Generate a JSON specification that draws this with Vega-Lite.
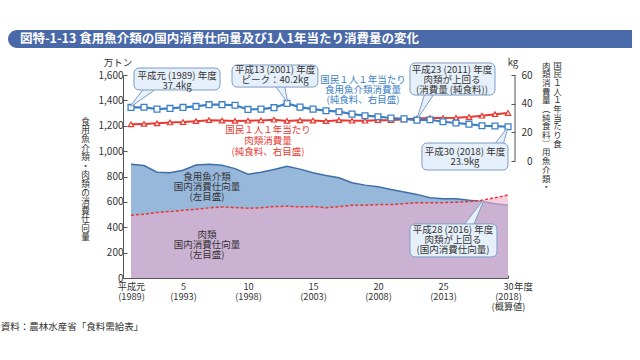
{
  "$schema": "https://vega.github.io/schema/vega-lite/v6.json",
  "width": 385,
  "height": 203,
  "autosize": {"type": "none"},
  "padding": {"left": 123, "top": 75, "right": 132, "bottom": 82},
  "background": "white",
  "config": {
    "font": "Noto Sans CJK JP",
    "view": {"stroke": null},
    "axis": {"grid": false, "labelOverlap": false, "domainColor": "#555555", "tickColor": "#555555", "labelColor": "#333333", "titleColor": "#333333", "labelFont": "Noto Sans CJK JP", "titleFont": "Noto Sans CJK JP"}
  },
  "datasets": {
    "d": [
      {"year": 1989, "fish_t": 896, "meat_t": 495, "fish_kg": 37.4, "meat_kg": 25.6},
      {"year": 1990, "fish_t": 886, "meat_t": 503, "fish_kg": 37.5, "meat_kg": 25.9},
      {"year": 1991, "fish_t": 834, "meat_t": 516, "fish_kg": 36.2, "meat_kg": 26.3},
      {"year": 1992, "fish_t": 829, "meat_t": 524, "fish_kg": 36.7, "meat_kg": 26.9},
      {"year": 1993, "fish_t": 850, "meat_t": 534, "fish_kg": 37.4, "meat_kg": 27.2},
      {"year": 1994, "fish_t": 891, "meat_t": 542, "fish_kg": 38.1, "meat_kg": 27.8},
      {"year": 1995, "fish_t": 896, "meat_t": 553, "fish_kg": 39.3, "meat_kg": 28.5},
      {"year": 1996, "fish_t": 888, "meat_t": 560, "fish_kg": 39.3, "meat_kg": 28.2},
      {"year": 1997, "fish_t": 862, "meat_t": 555, "fish_kg": 38.9, "meat_kg": 28.0},
      {"year": 1998, "fish_t": 818, "meat_t": 550, "fish_kg": 36.0, "meat_kg": 28.1},
      {"year": 1999, "fish_t": 834, "meat_t": 553, "fish_kg": 36.2, "meat_kg": 28.3},
      {"year": 2000, "fish_t": 855, "meat_t": 563, "fish_kg": 37.2, "meat_kg": 28.8},
      {"year": 2001, "fish_t": 881, "meat_t": 566, "fish_kg": 40.2, "meat_kg": 28.0},
      {"year": 2002, "fish_t": 858, "meat_t": 560, "fish_kg": 37.6, "meat_kg": 28.4},
      {"year": 2003, "fish_t": 829, "meat_t": 563, "fish_kg": 36.2, "meat_kg": 28.2},
      {"year": 2004, "fish_t": 808, "meat_t": 553, "fish_kg": 35.1, "meat_kg": 27.8},
      {"year": 2005, "fish_t": 790, "meat_t": 563, "fish_kg": 34.4, "meat_kg": 28.5},
      {"year": 2006, "fish_t": 751, "meat_t": 573, "fish_kg": 32.7, "meat_kg": 28.1},
      {"year": 2007, "fish_t": 732, "meat_t": 573, "fish_kg": 31.6, "meat_kg": 28.1},
      {"year": 2008, "fish_t": 719, "meat_t": 579, "fish_kg": 30.9, "meat_kg": 28.5},
      {"year": 2009, "fish_t": 698, "meat_t": 579, "fish_kg": 30.0, "meat_kg": 28.5},
      {"year": 2010, "fish_t": 678, "meat_t": 586, "fish_kg": 29.4, "meat_kg": 29.1},
      {"year": 2011, "fish_t": 659, "meat_t": 594, "fish_kg": 28.5, "meat_kg": 29.6},
      {"year": 2012, "fish_t": 633, "meat_t": 594, "fish_kg": 28.8, "meat_kg": 30.0},
      {"year": 2013, "fish_t": 625, "meat_t": 594, "fish_kg": 27.4, "meat_kg": 30.0},
      {"year": 2014, "fish_t": 625, "meat_t": 597, "fish_kg": 26.5, "meat_kg": 30.1},
      {"year": 2015, "fish_t": 612, "meat_t": 602, "fish_kg": 25.7, "meat_kg": 30.7},
      {"year": 2016, "fish_t": 603, "meat_t": 613, "fish_kg": 24.6, "meat_kg": 31.6},
      {"year": 2017, "fish_t": 586, "meat_t": 633, "fish_kg": 24.4, "meat_kg": 32.7},
      {"year": 2018, "fish_t": 573, "meat_t": 654, "fish_kg": 23.9, "meat_kg": 33.5}
    ]
  },
  "layer": [
    {
      "data": {"name": "d"},
      "layer": [
        {
          "mark": {"type": "area", "color": "#97b7db"},
          "encoding": {
            "x": {"field": "year", "type": "quantitative", "scale": {"domain": [1988.385, 2018], "nice": false, "zero": false},
              "axis": {"values": [1989,1990,1991,1992,1993,1994,1995,1996,1997,1998,1999,2000,2001,2002,2003,2004,2005,2006,2007,2008,2009,2010,2011,2012,2013,2014,2015,2016,2017,2018],
                "tickCount": 100,
                "labelExpr": "datum.value == 1989 ? ['平成元','(1989)'] : datum.value == 1993 ? ['5','(1993)'] : datum.value == 1998 ? ['10','(1998)'] : datum.value == 2003 ? ['15','(2003)'] : datum.value == 2008 ? ['20','(2008)'] : datum.value == 2013 ? ['25','(2013)'] : datum.value == 2018 ? ['30','(2018)','(概算値)'] : ''",
                "labelOverlap": false, "labelFlush": false, "labelBound": false, "tickSize": -3, "labelPadding": 7, "labelFontSize": 9.2, "labelLineHeight": 10, "title": null}},
            "y": {"field": "fish_t", "type": "quantitative", "scale": {"domain": [0, 1600], "nice": false},
              "axis": {"values": [0,200,400,600,800,1000,1200,1400,1600], "tickCount": 100, "format": ",.0f", "labelOverlap": false, "tickSize": -4, "labelPadding": 4, "labelFontSize": 10,
                "title": ["食","用","魚","介","類","・","肉","類","の","消","費","仕","向","量"],
                "titleAngle": 0, "titleFontSize": 8.6, "titleLineHeight": 8.9, "titleFontWeight": "normal", "titleAlign": "center", "titleBaseline": "top", "titleX": -38, "titleY": 42}}
          }
        },
        {
          "mark": {"type": "line", "color": "#3f6fa6", "strokeWidth": 1.5},
          "encoding": {
            "x": {"field": "year", "type": "quantitative", "scale": {"domain": [1988.385, 2018], "nice": false, "zero": false}},
            "y": {"field": "fish_t", "type": "quantitative", "scale": {"domain": [0, 1600], "nice": false}}
          }
        },
        {
          "mark": {"type": "area", "color": "#f0afcb", "opacity": 0.6},
          "encoding": {
            "x": {"field": "year", "type": "quantitative", "scale": {"domain": [1988.385, 2018], "nice": false, "zero": false}},
            "y": {"field": "meat_t", "type": "quantitative", "scale": {"domain": [0, 1600], "nice": false}}
          }
        },
        {
          "mark": {"type": "line", "color": "#e8382f", "strokeWidth": 1.5, "strokeDash": [3, 2]},
          "encoding": {
            "x": {"field": "year", "type": "quantitative", "scale": {"domain": [1988.385, 2018], "nice": false, "zero": false}},
            "y": {"field": "meat_t", "type": "quantitative", "scale": {"domain": [0, 1600], "nice": false}}
          }
        }
      ]
    },
    {
      "layer": [
        {
          "data": {"name": "d"},
          "mark": {"type": "line", "color": "#e8382f", "strokeWidth": 2},
          "encoding": {
            "x": {"field": "year", "type": "quantitative", "scale": {"domain": [1988.385, 2018], "nice": false, "zero": false}},
            "y": {"field": "meat_kg", "type": "quantitative", "scale": {"domain": [-81.6, 60], "nice": false, "zero": false},
              "axis": {"orient": "right", "values": [0, 20, 40, 60], "tickCount": 100, "domain": false, "offset": 7, "tickSize": -4, "labelAlign": "right", "labelPadding": 21, "labelFontSize": 10, "labelOverlap": false,
                "title": ["肉\u2004国","類\u2004民","消\u2004１","費\u2004人","量\u2004１","︵\u2004年","純\u2004当","食\u2004た","料\u2004り","︶\u2004食","　\u2004用","　\u2004魚","　\u2004介","　\u2004類","　\u2004・"],
                "titleAngle": 0, "titleAlign": "left", "titleBaseline": "top", "titleX": 26.5, "titleY": -14, "titleFontSize": 8.5, "titleLineHeight": 8.7, "titleFontWeight": "normal"}}
          }
        },
        {
          "data": {"name": "d"},
          "mark": {"type": "point", "shape": "triangle-up", "filled": true, "fill": "white", "stroke": "#e8382f", "strokeWidth": 1.2, "size": 28, "opacity": 1},
          "encoding": {
            "x": {"field": "year", "type": "quantitative", "scale": {"domain": [1988.385, 2018], "nice": false, "zero": false}},
            "y": {"field": "meat_kg", "type": "quantitative", "scale": {"domain": [-81.6, 60], "nice": false, "zero": false}}
          }
        },
        {
          "data": {"name": "d"},
          "mark": {"type": "line", "color": "#3b7fc4", "strokeWidth": 2.2},
          "encoding": {
            "x": {"field": "year", "type": "quantitative", "scale": {"domain": [1988.385, 2018], "nice": false, "zero": false}},
            "y": {"field": "fish_kg", "type": "quantitative", "scale": {"domain": [-81.6, 60], "nice": false, "zero": false}}
          }
        },
        {
          "data": {"name": "d"},
          "mark": {"type": "point", "shape": "square", "filled": true, "fill": "white", "stroke": "#3b7fc4", "strokeWidth": 1.3, "size": 34, "opacity": 1},
          "encoding": {
            "x": {"field": "year", "type": "quantitative", "scale": {"domain": [1988.385, 2018], "nice": false, "zero": false}},
            "y": {"field": "fish_kg", "type": "quantitative", "scale": {"domain": [-81.6, 60], "nice": false, "zero": false}}
          }
        },
        {
          "data": {"values": [{"a": 1}]},
          "mark": {"type": "rule", "color": "#555555", "strokeWidth": 1},
          "encoding": {
            "x": {"datum": 2018.54, "type": "quantitative", "scale": {"domain": [1988.385, 2018], "nice": false, "zero": false}},
            "y": {"datum": 0, "type": "quantitative", "scale": {"domain": [-81.6, 60], "nice": false, "zero": false}},
            "y2": {"datum": 60}
          }
        }
      ]
    },
    {
      "layer": [
        {
          "data": {"values": [
            {"t": 1, "year": 1990.46, "v": 1498, "w": 1}, {"t": 1, "year": 1989.0, "v": 1356, "w": 0},
            {"t": 2, "year": 2000.46, "v": 1521, "w": 1}, {"t": 2, "year": 2001.0, "v": 1395, "w": 0},
            {"t": 4, "year": 2012.0, "v": 1466, "w": 1}, {"t": 4, "year": 2011.08, "v": 1269, "w": 0},
            {"t": 6, "year": 2017.23, "v": 1033, "w": 1}, {"t": 6, "year": 2017.92, "v": 1174, "w": 0},
            {"t": 9, "year": 2014.92, "v": 402, "w": 1}, {"t": 9, "year": 2016.08, "v": 607, "w": 0}
          ]},
          "mark": {"type": "trail", "fill": "#e6f0fa", "stroke": "#7d9cc6", "strokeWidth": 1},
          "encoding": {
            "x": {"field": "year", "type": "quantitative", "scale": {"domain": [1988.385, 2018], "nice": false, "zero": false}},
            "y": {"field": "v", "type": "quantitative", "scale": {"domain": [0, 1600], "nice": false}, "axis": null},
            "detail": {"field": "t", "type": "nominal"},
            "size": {"field": "w", "type": "quantitative", "scale": {"domain": [0, 1], "range": [0, 9]}, "legend": null}
          }
        },
        {
          "data": {"values": [
            {"x1": 1989.23, "x2": 1995.85, "y1": 1655, "y2": 1482},
            {"x1": 1996.77, "x2": 2003.38, "y1": 1679, "y2": 1505},
            {"x1": 2010.46, "x2": 2017.0, "y1": 1695, "y2": 1442},
            {"x1": 2011.38, "x2": 2018.0, "y1": 1064, "y2": 851},
            {"x1": 2010.46, "x2": 2017.15, "y1": 426, "y2": 166}
          ]},
          "mark": {"type": "rect", "fill": "#e6f0fa", "stroke": "#7d9cc6", "strokeWidth": 1, "cornerRadius": 5},
          "encoding": {
            "x": {"field": "x1", "type": "quantitative", "scale": {"domain": [1988.385, 2018], "nice": false, "zero": false}},
            "x2": {"field": "x2"},
            "y": {"field": "y1", "type": "quantitative", "scale": {"domain": [0, 1600], "nice": false}, "axis": null},
            "y2": {"field": "y2"}
          }
        },
        {
          "data": {"values": [
            {"label": "平成元 (1989) 年度\n37.4kg", "year": 1992.54, "v": 1632},
            {"label": "平成13 (2001) 年度\nピーク：40.2kg", "year": 2000.08, "v": 1675},
            {"label": "平成23 (2011) 年度\n肉類が上回る\n(消費量 (純食料))", "year": 2013.69, "v": 1679},
            {"label": "平成30 (2018) 年度\n23.9kg", "year": 2014.69, "v": 1036},
            {"label": "平成28 (2016) 年度\n肉類が上回る\n(国内消費仕向量)", "year": 2013.77, "v": 418},
            {"label": "食用魚介類\n国内消費仕向量\n(左目盛)", "year": 1994.85, "v": 836},
            {"label": "肉類\n国内消費仕向量\n(左目盛)", "year": 1994.85, "v": 378}
          ]},
          "mark": {"type": "text", "fontSize": 9.5, "lineHeight": 10, "color": "#333333", "align": "center", "baseline": "top", "lineBreak": "\n"},
          "encoding": {
            "x": {"field": "year", "type": "quantitative", "scale": {"domain": [1988.385, 2018], "nice": false, "zero": false}},
            "y": {"field": "v", "type": "quantitative", "scale": {"domain": [0, 1600], "nice": false}, "axis": null},
            "text": {"field": "label"}
          }
        },
        {
          "data": {"values": [
            {"label": "国民１人１年当たり\n食用魚介類消費量\n(純食料、右目盛)", "year": 2006.85, "v": 1600}
          ]},
          "mark": {"type": "text", "fontSize": 9.5, "lineHeight": 10, "color": "#3b7fc4", "align": "center", "baseline": "top", "lineBreak": "\n"},
          "encoding": {
            "x": {"field": "year", "type": "quantitative", "scale": {"domain": [1988.385, 2018], "nice": false, "zero": false}},
            "y": {"field": "v", "type": "quantitative", "scale": {"domain": [0, 1600], "nice": false}, "axis": null},
            "text": {"field": "label"}
          }
        },
        {
          "data": {"values": [
            {"label": "国民１人１年当たり\n肉類消費量\n(純食料、右目盛)", "year": 1999.54, "v": 1206}
          ]},
          "mark": {"type": "text", "fontSize": 9.5, "lineHeight": 11, "color": "#e8382f", "align": "center", "baseline": "top", "lineBreak": "\n"},
          "encoding": {
            "x": {"field": "year", "type": "quantitative", "scale": {"domain": [1988.385, 2018], "nice": false, "zero": false}},
            "y": {"field": "v", "type": "quantitative", "scale": {"domain": [0, 1600], "nice": false}, "axis": null},
            "text": {"field": "label"}
          }
        },
        {
          "data": {"values": [
            {"label": "万トン", "year": 1988.0, "v": 1695, "al": "c"},
            {"label": "kg", "year": 2018.38, "v": 1695, "al": "c"},
            {"label": "年度", "year": 2019.2, "v": -74, "al": "l"},
            {"label": "資料：農林水産省「食料需給表」", "year": 1984.46, "v": -386, "al": "l"}
          ]},
          "mark": {"type": "text", "fontSize": 9.5, "color": "#333333", "baseline": "middle"},
          "encoding": {
            "x": {"field": "year", "type": "quantitative", "scale": {"domain": [1988.385, 2018], "nice": false, "zero": false}},
            "y": {"field": "v", "type": "quantitative", "scale": {"domain": [0, 1600], "nice": false}, "axis": null},
            "text": {"field": "label"},
            "align": {"field": "al", "type": "nominal", "scale": {"domain": ["c", "l"], "range": ["center", "left"]}, "legend": null}
          }
        },
        {
          "data": {"values": [{"a": 1}]},
          "mark": {"type": "rect", "fill": "#4a69a8", "cornerRadiusTopLeft": 9, "cornerRadiusBottomLeft": 9},
          "encoding": {
            "x": {"datum": 1979.54, "type": "quantitative", "scale": {"domain": [1988.385, 2018], "nice": false, "zero": false}},
            "x2": {"datum": 2027.54},
            "y": {"datum": 1955, "type": "quantitative", "scale": {"domain": [0, 1600], "nice": false}, "axis": null},
            "y2": {"datum": 1813}
          }
        },
        {
          "data": {"values": [{"label": "図特-1-13 食用魚介類の国内消費仕向量及び1人1年当たり消費量の変化", "year": 1980.46, "v": 1884}]},
          "mark": {"type": "text", "fontSize": 12.5, "fontWeight": "bold", "color": "white", "align": "left", "baseline": "middle"},
          "encoding": {
            "x": {"field": "year", "type": "quantitative", "scale": {"domain": [1988.385, 2018], "nice": false, "zero": false}},
            "y": {"field": "v", "type": "quantitative", "scale": {"domain": [0, 1600], "nice": false}, "axis": null},
            "text": {"field": "label"}
          }
        }
      ]
    }
  ],
  "resolve": {"scale": {"y": "independent"}}
}
